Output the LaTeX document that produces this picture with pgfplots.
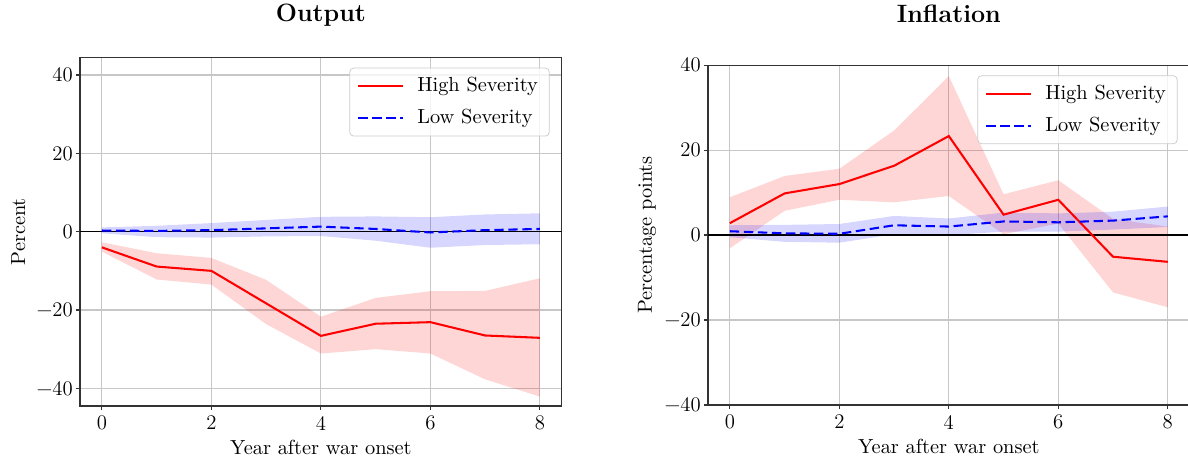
\documentclass[border=0pt]{standalone}
\usepackage{fontspec}
\usepackage{pgfplots}
\usepackage{pgfplotstable}
\pgfplotsset{compat=1.18}
\usepgfplotslibrary{fillbetween}

\pgfplotstableread{
x y lo hi
0 -4.0 -5.1 -2.7
1 -8.9 -12.2 -5.5
2 -10.0 -13.5 -6.7
3 -18.3 -23.6 -12.3
4 -26.6 -31.1 -21.7
5 -23.5 -30.0 -16.9
6 -23.1 -31.1 -15.2
7 -26.5 -37.7 -15.1
8 -27.1 -42.1 -11.9
}\outhigh
\pgfplotstableread{
x y lo hi
0 0.3 -0.4 1.1
1 0.2 -1.4 1.5
2 0.4 -1.5 2.2
3 0.85 -1.2 3.0
4 1.3 -1.1 3.8
5 0.7 -2.3 3.9
6 -0.2 -4.1 3.7
7 0.4 -3.4 4.4
8 0.7 -3.2 4.7
}\outlow
\pgfplotstableread{
x y lo hi
0 2.8 -3.1 8.9
1 9.8 5.7 13.9
2 12.0 8.3 15.6
3 16.3 7.7 24.6
4 23.3 9.2 37.4
5 4.8 0.2 9.6
6 8.3 2.7 12.9
7 -5.1 -13.5 3.8
8 -6.3 -17.0 2.0
}\infhigh
\pgfplotstableread{
x y lo hi
0 0.9 -0.5 2.3
1 0.4 -1.6 2.4
2 0.3 -1.8 2.6
3 2.3 0.2 4.5
4 2.0 0.0 3.9
5 3.2 0.8 5.3
6 3.0 0.8 5.1
7 3.4 1.3 5.5
8 4.4 1.9 6.7
}\inflow

\pgfplotsset{
  common/.style={
    scale only axis, width=257.6pt,
    xmin=-0.4, xmax=8.4, xtick={0,2,4,6,8}, xticklabels={0,2,4,6,8},
    ytick={-40,-20,0,20,40}, yticklabels={−40,−20,0,20,40},
    grid=major, grid style={black!22, line width=0.6pt},
    axis line style={black!80, line width=0.6pt},
    tick align=outside, xtick pos=left, ytick pos=left,
    major tick length=2.2pt,
    tick style={black!80, line width=0.6pt},
    tick label style={font=\fontsize{11.1}{13}\selectfont, inner sep=1pt},
    xticklabel style={yshift=-2pt},
    yticklabel style={xshift=-0.5pt},
    label style={font=\fontsize{10.9}{13}\selectfont},
    xlabel style={yshift=-0.5pt},
    xlabel={Year after war onset},
    title style={font=\fontsize{13.4}{15}\selectfont\bfseries, text depth=2.6pt},
    legend cell align=left,
    legend style={at={(1,1)}, xshift=-6.5pt, yshift=-5.5pt, anchor=north east,
      rounded corners=2pt, draw=black!20, fill=white, fill opacity=0.8, text opacity=1,
      font=\fontsize{10.9}{13}\selectfont,
      row sep=4pt, column sep=5pt, inner xsep=4pt, inner ysep=3pt},
    legend image code/.code={\draw[##1] (0pt,0pt) -- (24pt,0pt);},
  },
  hi/.style={red, line width=1.1pt},
  lo/.style={blue, line width=1.1pt, dash pattern=on 5pt off 2.5pt},
}

\begin{document}
\begin{tikzpicture}
\begin{axis}[common, height=186.4pt, ymin=-44.5, ymax=44.5,
  title={Output}, title style={yshift=7.2pt}, ylabel={Percent},
  ylabel style={xshift=0pt, yshift=1.5pt}]
  \addplot[name path=ha, draw=none, forget plot] table[x=x,y=hi]{\outhigh};
  \addplot[name path=hb, draw=none, forget plot] table[x=x,y=lo]{\outhigh};
  \addplot[fill=red, fill opacity=0.16, draw=none, forget plot] fill between[of=ha and hb];
  \addplot[name path=la, draw=none, forget plot] table[x=x,y=hi]{\outlow};
  \addplot[name path=lb, draw=none, forget plot] table[x=x,y=lo]{\outlow};
  \addplot[fill=blue, fill opacity=0.16, draw=none, forget plot] fill between[of=la and lb];
  \addplot[black, line width=0.8pt, forget plot] coordinates {(-0.4,0) (8.4,0)};
  \addplot[hi] table[x=x,y=y]{\outhigh};
  \addlegendentry{High Severity}
  \addplot[lo] table[x=x,y=y]{\outlow};
  \addlegendentry{Low Severity}
\end{axis}
\begin{axis}[common, at={(335.8pt,0.5pt)}, height=181.8pt, ymin=-40, ymax=40,
  title={Inflation}, title style={yshift=10.9pt}, ylabel={Percentage points}]
  \addplot[name path=ha, draw=none, forget plot] table[x=x,y=hi]{\infhigh};
  \addplot[name path=hb, draw=none, forget plot] table[x=x,y=lo]{\infhigh};
  \addplot[fill=red, fill opacity=0.16, draw=none, forget plot] fill between[of=ha and hb];
  \addplot[name path=la, draw=none, forget plot] table[x=x,y=hi]{\inflow};
  \addplot[name path=lb, draw=none, forget plot] table[x=x,y=lo]{\inflow};
  \addplot[fill=blue, fill opacity=0.16, draw=none, forget plot] fill between[of=la and lb];
  \addplot[black, line width=0.8pt, forget plot] coordinates {(-0.4,0) (8.4,0)};
  \addplot[hi] table[x=x,y=y]{\infhigh};
  \addlegendentry{High Severity}
  \addplot[lo] table[x=x,y=y]{\inflow};
  \addlegendentry{Low Severity}
\end{axis}
\pgfresetboundingbox
\useasboundingbox (-42.8pt,-29.4pt) rectangle (592.5pt,217.1pt);
\end{tikzpicture}
\end{document}
